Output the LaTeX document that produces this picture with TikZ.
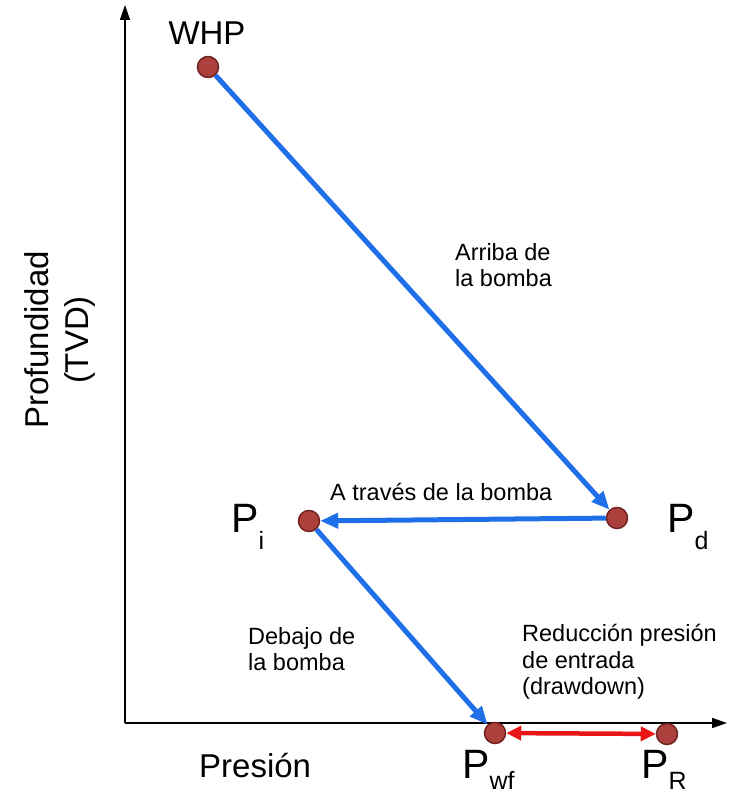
\documentclass[tikz,border=0pt]{standalone}
\usepackage{fontspec}
\setmainfont{Liberation Sans}
\usetikzlibrary{arrows.meta}

\definecolor{flowblue}{RGB}{31,111,232}
\definecolor{dotred}{RGB}{172,64,60}
\definecolor{dotedge}{RGB}{112,36,34}
\definecolor{gapred}{RGB}{232,22,22}

\newcommand{\presub}[2][17pt]{P\raisebox{-#1}{\fontsize{25}{25}\selectfont #2}}

\begin{document}
\begin{tikzpicture}[x=1pt,y=-1pt,
    dot/.style={circle,fill=dotred,draw=dotedge,line width=1.5pt,minimum size=21pt,inner sep=0pt},
    flow/.style={draw=flowblue,line width=5pt,-{Triangle[length=18pt,width=15pt]}},
    gap/.style={draw=gapred,line width=4.5pt,{Triangle[length=15pt,width=14pt]}-{Triangle[length=15pt,width=14pt]}},
    axis/.style={draw=black,line width=1.5pt,-{Triangle[length=15pt,width=10pt]}},
    lbl/.style={font=\fontsize{23.5}{26.5}\selectfont,align=left,inner sep=0pt},
    big/.style={font=\fontsize{33}{40}\selectfont,inner sep=0pt},
    plbl/.style={font=\fontsize{41}{41}\selectfont,inner sep=0pt,anchor=base west}]
  \useasboundingbox (0,0) rectangle (728,797);

  % ejes
  \coordinate (o) at (125,723);
  \coordinate (ytop) at (125,5);
  \coordinate (xend) at (727,723);
  \path (o) edge[axis] (ytop);
  \path (o) edge[axis] (xend);

  \begin{scope}[every node/.style={dot}]
    \node (whp) at (208,67) {};
    \node (pd)  at (617,518) {};
    \node (pi)  at (309,521) {};
    \node (pwf) at (495,733) {};
    \node (pr)  at (667,734) {};
  \end{scope}

  % flechas
  \path (whp) edge[flow] (pd);
  \path (pd)  edge[flow] (pi);
  \path (pi)  edge[flow] (pwf);
  \path (pwf) edge[gap] (pr);

  % textos
  \node[big,anchor=base] (whplbl) at (207,45) {WHP};
  \node[plbl] (pdlbl)  at (667,532) {\presub{d}};
  \node[plbl] (pilbl)  at (231,532) {\presub{i}};
  \node[plbl] (pwflbl) at (462,778) {\presub[11pt]{wf}};
  \node[plbl] (prlbl)  at (641,778) {\presub[11pt]{R}};
  \node[big,anchor=base west] (presion) at (199,777) {Presión};
  \node[big,align=center,rotate=90] (prof) at (60,340) {Profundidad\\(TVD)};

  \node[lbl,anchor=west] (arriba) at (455,265) {Arriba de\\la bomba};
  \node[lbl,anchor=west] (traves) at (330,492) {A través de la bomba};
  \node[lbl,anchor=west] (debajo) at (248,649) {Debajo de\\la bomba};
  \node[lbl,anchor=west] (reduc)  at (522,662) {Reducción presión\\de entrada\\(drawdown)};

\end{tikzpicture}
\end{document}
